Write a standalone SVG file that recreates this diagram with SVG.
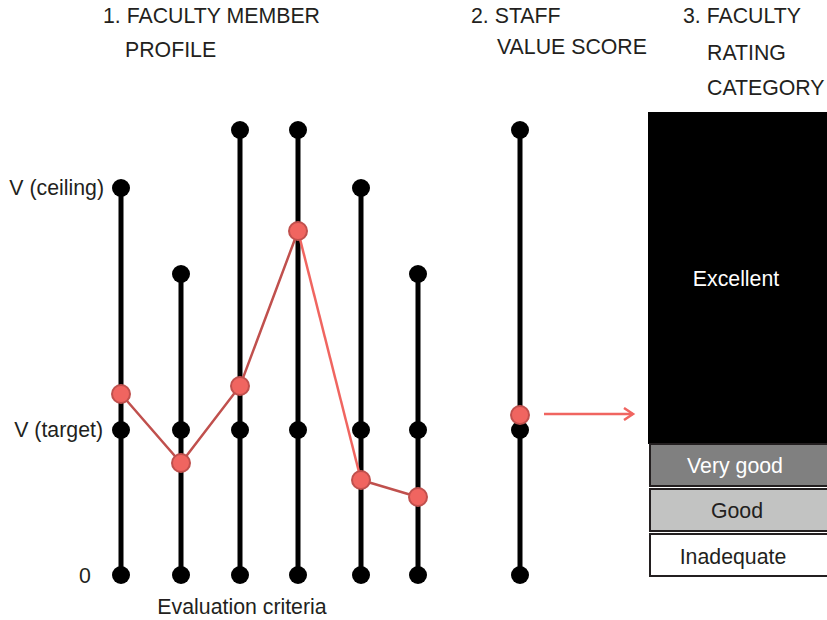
<svg xmlns="http://www.w3.org/2000/svg" width="827" height="620" viewBox="0 0 827 620">
<defs>
<style>
text{font-family:"Liberation Sans",Arial,sans-serif;font-size:21.3px;fill:#231f20}
.axis line{stroke:#000;stroke-width:5}
.axis circle{fill:#000}
.pt{fill:#f06560;stroke:#c0504d;stroke-width:2}
.lnk{fill:none;stroke:#c0504d;stroke-width:2.5}
.lnk2{fill:none;stroke:#f06560;stroke-width:2.5}
</style>
<marker id="ah" markerWidth="14" markerHeight="14" refX="11" refY="7" orient="auto" markerUnits="userSpaceOnUse">
<path d="M2,1 L11,7 L2,13" fill="none" stroke="#f06560" stroke-width="2.5"/>
</marker>
</defs>
<rect width="827" height="620" fill="#fff"/>
<g id="headers">
<text x="103" y="23">1. FACULTY MEMBER</text>
<text x="125" y="57">PROFILE</text>
<text x="471" y="23">2. STAFF</text>
<text x="497" y="54">VALUE SCORE</text>
<text x="683" y="23">3. FACULTY</text>
<text x="707" y="60">RATING</text>
<text x="707" y="95">CATEGORY</text>
</g>
<g id="labels">
<text x="104" y="195" text-anchor="end">V (ceiling)</text>
<text x="103" y="437" text-anchor="end">V (target)</text>
<text x="85" y="583" text-anchor="middle">0</text>
<text x="242" y="614" text-anchor="middle">Evaluation criteria</text>
</g>
<g id="criterion1" class="axis"><line x1="121" y1="188" x2="121" y2="575"/><circle cx="121" cy="188" r="9"/><circle cx="121" cy="430" r="9"/><circle cx="121" cy="575" r="9"/></g>
<g id="criterion2" class="axis"><line x1="181" y1="274" x2="181" y2="575"/><circle cx="181" cy="274" r="9"/><circle cx="181" cy="430" r="9"/><circle cx="181" cy="575" r="9"/></g>
<g id="criterion3" class="axis"><line x1="240" y1="130" x2="240" y2="575"/><circle cx="240" cy="130" r="9"/><circle cx="240" cy="430" r="9"/><circle cx="240" cy="575" r="9"/></g>
<g id="criterion4" class="axis"><line x1="298" y1="130" x2="298" y2="575"/><circle cx="298" cy="130" r="9"/><circle cx="298" cy="430" r="9"/><circle cx="298" cy="575" r="9"/></g>
<g id="criterion5" class="axis"><line x1="361" y1="188" x2="361" y2="575"/><circle cx="361" cy="188" r="9"/><circle cx="361" cy="430" r="9"/><circle cx="361" cy="575" r="9"/></g>
<g id="criterion6" class="axis"><line x1="418" y1="274" x2="418" y2="575"/><circle cx="418" cy="274" r="9"/><circle cx="418" cy="430" r="9"/><circle cx="418" cy="575" r="9"/></g>
<g id="staffscore" class="axis"><line x1="520" y1="130" x2="520" y2="575"/><circle cx="520" cy="130" r="9"/><circle cx="520" cy="430" r="9"/><circle cx="520" cy="575" r="9"/></g>
<g id="connectors">
<polyline class="lnk" points="121,394 181,463 240,386 298,231"/>
<line class="lnk2" x1="298" y1="231" x2="361" y2="480"/>
<line class="lnk" x1="361" y1="480" x2="418" y2="497"/>
<line x1="544" y1="414" x2="633" y2="414" stroke="#f06560" stroke-width="2.5" marker-end="url(#ah)"/>
</g>
<g id="profile-points">
<circle class="pt" cx="121" cy="394" r="9"/>
<circle class="pt" cx="181" cy="463" r="9"/>
<circle class="pt" cx="240" cy="386" r="9"/>
<circle class="pt" cx="298" cy="231" r="9"/>
<circle class="pt" cx="361" cy="480" r="9"/>
<circle class="pt" cx="418" cy="497" r="9"/>
<circle class="pt" cx="520" cy="415" r="9"/>
</g>
<g id="rating">
<g id="excellent"><rect x="649" y="113" width="180" height="330" fill="#000" stroke="#000" stroke-width="2"/><text x="736" y="286" text-anchor="middle" style="fill:#fff">Excellent</text></g>
<g id="verygood"><rect x="650" y="444" width="179" height="42" fill="#808080" stroke="#231f20" stroke-width="2"/><text x="735" y="473" text-anchor="middle" style="fill:#fff">Very good</text></g>
<g id="good"><rect x="650" y="489" width="179" height="42" fill="#c2c3c2" stroke="#231f20" stroke-width="2"/><text x="737" y="518" text-anchor="middle">Good</text></g>
<g id="inadequate"><rect x="650" y="534" width="179" height="42" fill="#fff" stroke="#231f20" stroke-width="2"/><text x="733" y="564" text-anchor="middle">Inadequate</text></g>
</g>
</svg>
